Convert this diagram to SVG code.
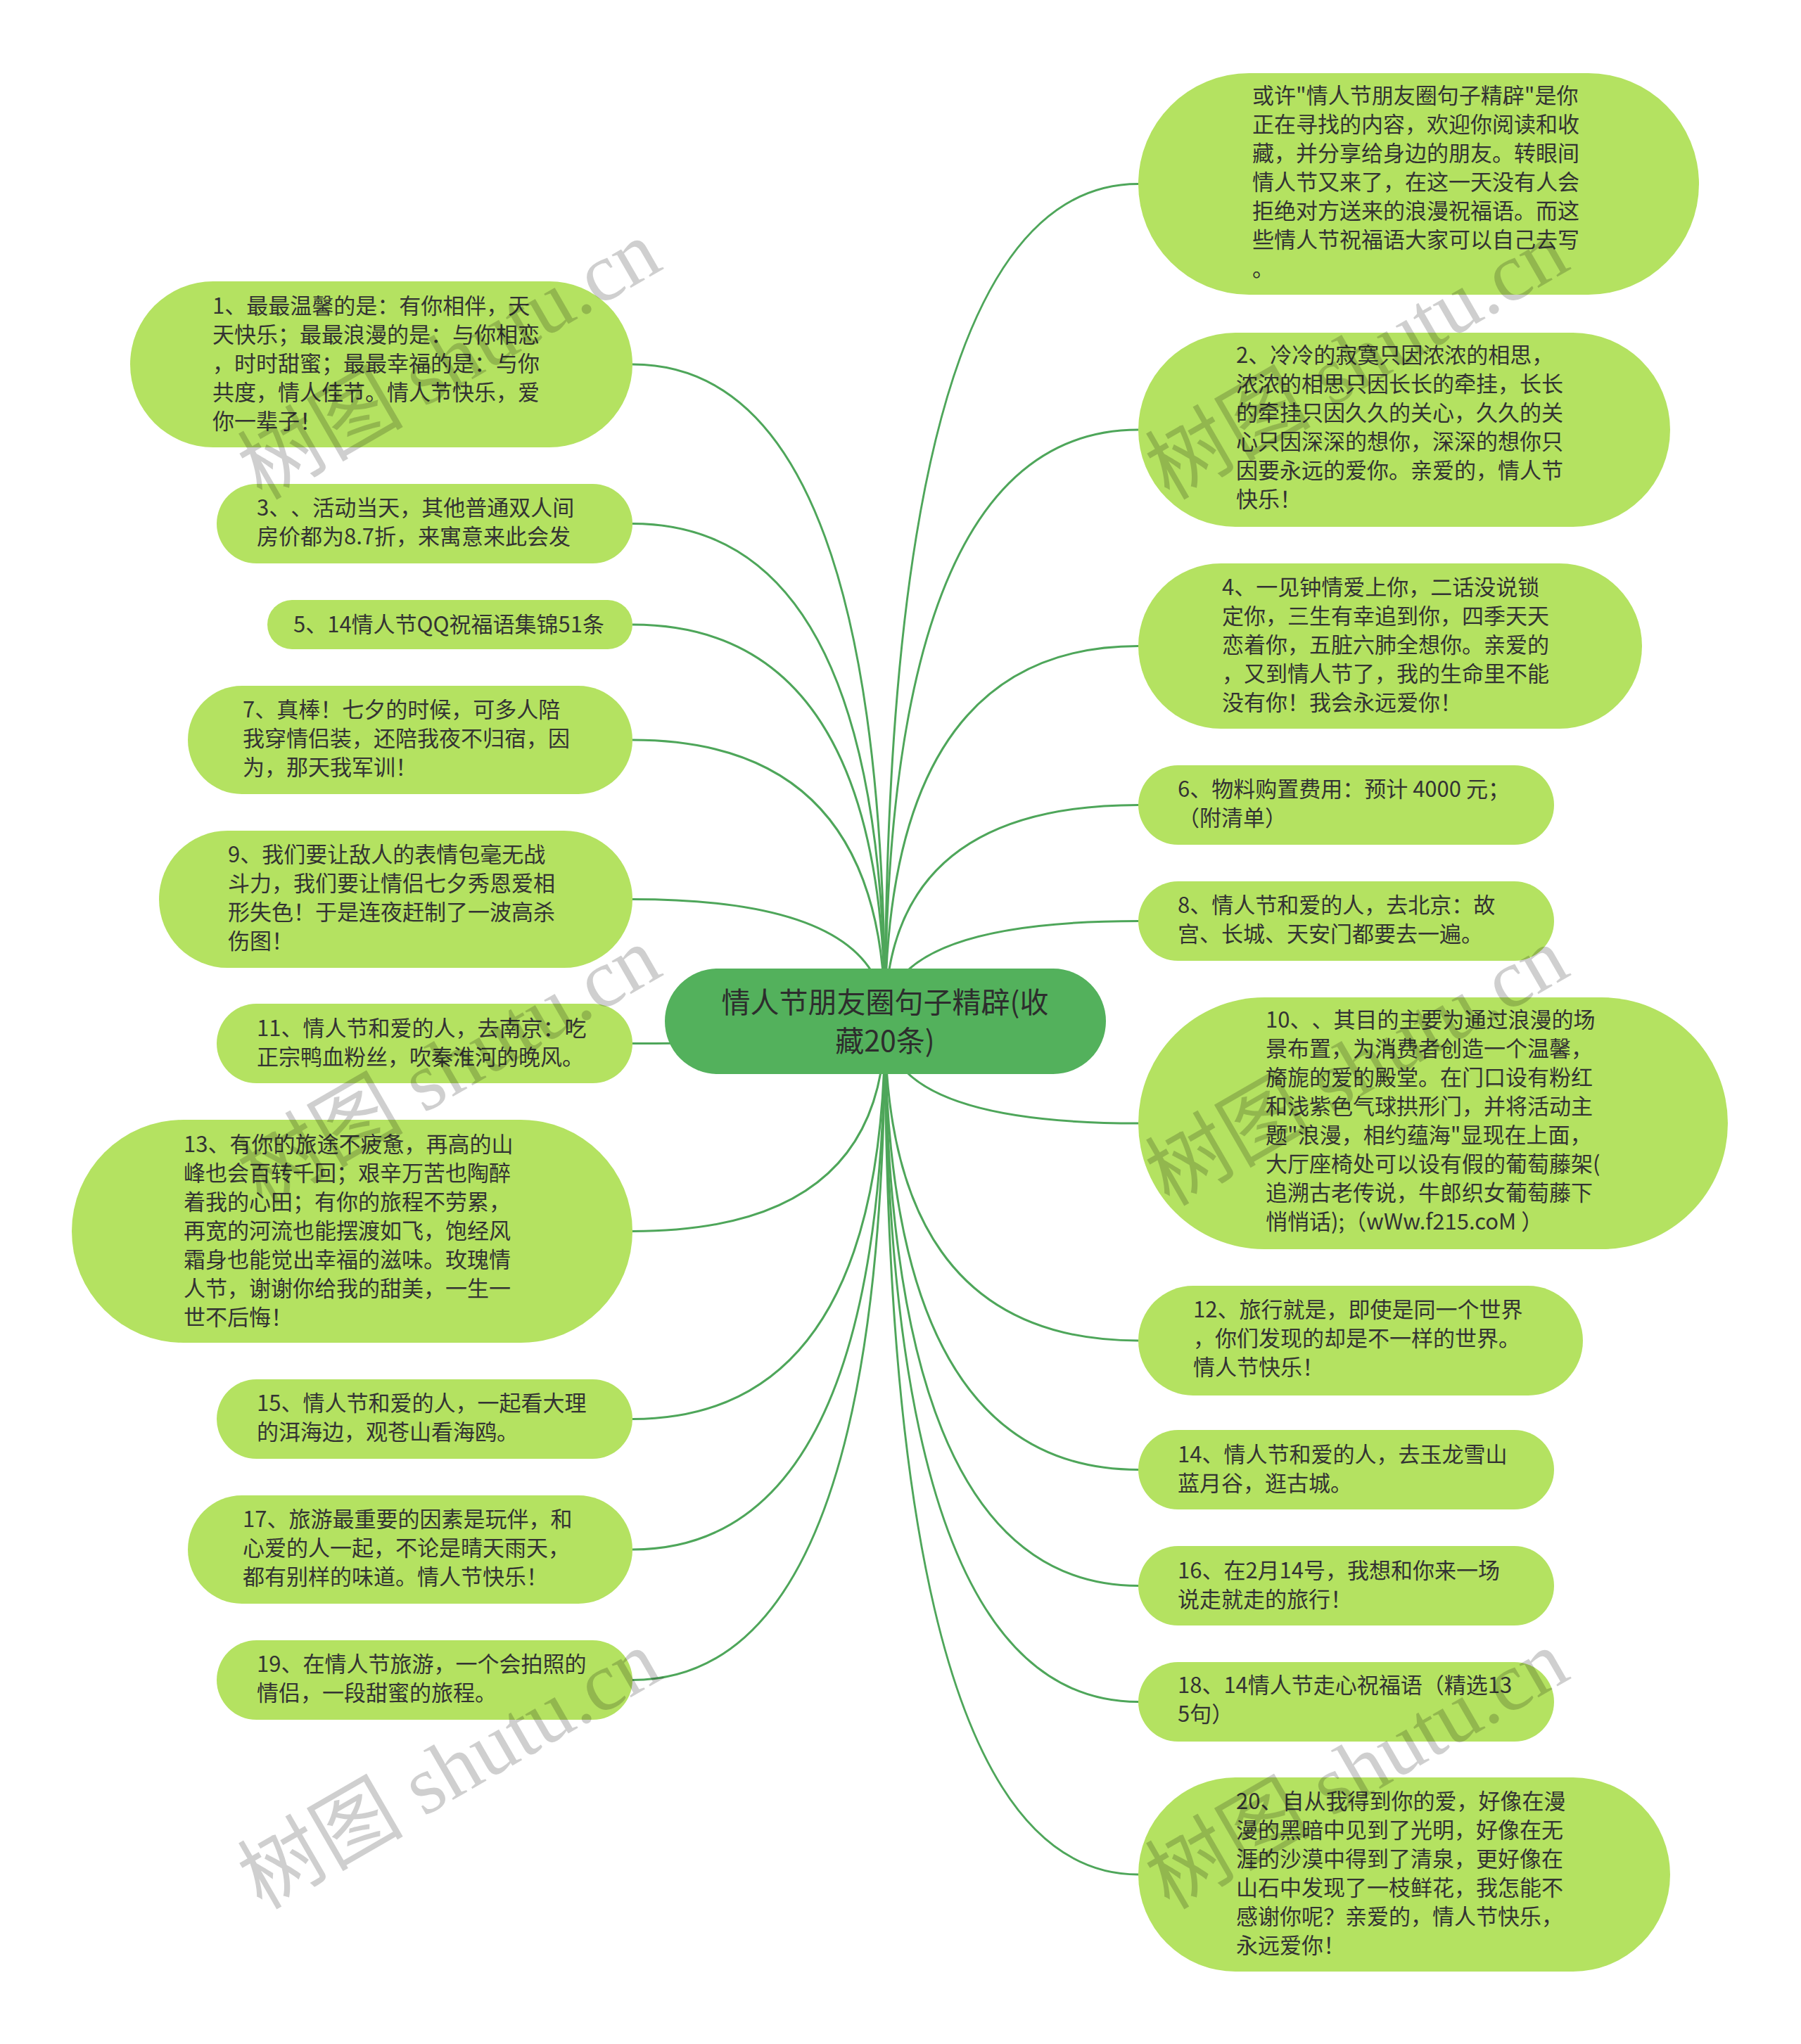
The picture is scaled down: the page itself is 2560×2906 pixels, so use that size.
<svg xmlns="http://www.w3.org/2000/svg" width="2560" height="2906" viewBox="0 0 2560 2906">
<style>
.bg{fill:#ffffff}
.node{fill:#b4e261}
.root{fill:#53b15c}
.t{font-family:"Noto Sans CJK SC","Noto Sans",sans-serif;font-size:31px;fill:#333333;text-spacing-trim:space-all}
.rt{font-family:"Noto Sans CJK SC","Noto Sans",sans-serif;font-size:41px;fill:#2d2d2d;text-anchor:middle;text-spacing-trim:space-all}
.edge{fill:none;stroke:#4ea65a;stroke-width:3}
.wm{font-family:"Liberation Serif","Noto Sans CJK SC",serif;font-size:118px;fill:#000000;fill-opacity:0.19}
</style>
<rect class="bg" x="0" y="0" width="2560" height="2906"/>
<g id="connectors">
<path class="edge" d="M1258 1452 Q1258 518 899 518"/>
<path class="edge" d="M1258 1452 Q1258 744.5 899 744.5"/>
<path class="edge" d="M1258 1452 Q1258 888 899 888"/>
<path class="edge" d="M1258 1452 Q1258 1052 899 1052"/>
<path class="edge" d="M1258 1452 Q1258 1278.5 899 1278.5"/>
<path class="edge" d="M1258 1452 Q1258 1483.5 899 1483.5"/>
<path class="edge" d="M1258 1452 Q1258 1750.5 899 1750.5"/>
<path class="edge" d="M1258 1452 Q1258 2017.5 899 2017.5"/>
<path class="edge" d="M1258 1452 Q1258 2203 899 2203"/>
<path class="edge" d="M1258 1452 Q1258 2388.5 899 2388.5"/>
<path class="edge" d="M1258 1452 Q1258 261.5 1618 261.5"/>
<path class="edge" d="M1258 1452 Q1258 611 1618 611"/>
<path class="edge" d="M1258 1452 Q1258 918.5 1618 918.5"/>
<path class="edge" d="M1258 1452 Q1258 1144.5 1618 1144.5"/>
<path class="edge" d="M1258 1452 Q1258 1309.5 1618 1309.5"/>
<path class="edge" d="M1258 1452 Q1258 1597 1618 1597"/>
<path class="edge" d="M1258 1452 Q1258 1906 1618 1906"/>
<path class="edge" d="M1258 1452 Q1258 2089.5 1618 2089.5"/>
<path class="edge" d="M1258 1452 Q1258 2254.5 1618 2254.5"/>
<path class="edge" d="M1258 1452 Q1258 2419.5 1618 2419.5"/>
<path class="edge" d="M1258 1452 Q1258 2665 1618 2665"/>
</g>
<g id="root">
<rect class="root" x="945" y="1377" width="627" height="150" rx="75"/>
<text class="rt" x="1258" y="1440">情人节朋友圈句子精辟(收</text>
<text class="rt" x="1258" y="1495">藏20条)</text>
</g>
<g id="n1">
<rect class="node" x="185" y="400" width="714" height="236" rx="118"/>
<text class="t" x="302" y="446"><tspan x="302">1、最最温馨的是：有你相伴，天</tspan><tspan x="302" dy="41">天快乐；最最浪漫的是：与你相恋</tspan><tspan x="302" dy="41">，时时甜蜜；最最幸福的是：与你</tspan><tspan x="302" dy="41">共度，情人佳节。情人节快乐，爱</tspan><tspan x="302" dy="41">你一辈子！</tspan></text>
</g>
<g id="n3">
<rect class="node" x="308" y="688" width="591" height="113" rx="56.5"/>
<text class="t" x="365" y="733"><tspan x="365">3、、活动当天，其他普通双人间</tspan><tspan x="365" dy="41">房价都为8.7折，来寓意来此会发</tspan></text>
</g>
<g id="n5">
<rect class="node" x="380" y="853" width="519" height="70" rx="35"/>
<text class="t" x="417" y="899">5、14情人节QQ祝福语集锦51条</text>
</g>
<g id="n7">
<rect class="node" x="267" y="975" width="632" height="154" rx="77"/>
<text class="t" x="345" y="1020"><tspan x="345">7、真棒！七夕的时候，可多人陪</tspan><tspan x="345" dy="41">我穿情侣装，还陪我夜不归宿，因</tspan><tspan x="345" dy="41">为，那天我军训！</tspan></text>
</g>
<g id="n9">
<rect class="node" x="226" y="1181" width="673" height="195" rx="97.5"/>
<text class="t" x="324" y="1226"><tspan x="324">9、我们要让敌人的表情包毫无战</tspan><tspan x="324" dy="41">斗力，我们要让情侣七夕秀恩爱相</tspan><tspan x="324" dy="41">形失色！于是连夜赶制了一波高杀</tspan><tspan x="324" dy="41">伤图！</tspan></text>
</g>
<g id="n11">
<rect class="node" x="308" y="1427" width="591" height="113" rx="56.5"/>
<text class="t" x="365" y="1473"><tspan x="365">11、情人节和爱的人，去南京：吃</tspan><tspan x="365" dy="41">正宗鸭血粉丝，吹秦淮河的晚风。</tspan></text>
</g>
<g id="n13">
<rect class="node" x="102" y="1592" width="797" height="317" rx="158.5"/>
<text class="t" x="261" y="1638"><tspan x="261">13、有你的旅途不疲惫，再高的山</tspan><tspan x="261" dy="41">峰也会百转千回；艰辛万苦也陶醉</tspan><tspan x="261" dy="41">着我的心田；有你的旅程不劳累，</tspan><tspan x="261" dy="41">再宽的河流也能摆渡如飞，饱经风</tspan><tspan x="261" dy="41">霜身也能觉出幸福的滋味。玫瑰情</tspan><tspan x="261" dy="41">人节，谢谢你给我的甜美，一生一</tspan><tspan x="261" dy="41">世不后悔！</tspan></text>
</g>
<g id="n15">
<rect class="node" x="308" y="1961" width="591" height="113" rx="56.5"/>
<text class="t" x="365" y="2006"><tspan x="365">15、情人节和爱的人，一起看大理</tspan><tspan x="365" dy="41">的洱海边，观苍山看海鸥。</tspan></text>
</g>
<g id="n17">
<rect class="node" x="267" y="2126" width="632" height="154" rx="77"/>
<text class="t" x="345" y="2171"><tspan x="345">17、旅游最重要的因素是玩伴，和</tspan><tspan x="345" dy="41">心爱的人一起，不论是晴天雨天，</tspan><tspan x="345" dy="41">都有别样的味道。情人节快乐！</tspan></text>
</g>
<g id="n19">
<rect class="node" x="308" y="2332" width="591" height="113" rx="56.5"/>
<text class="t" x="365" y="2377"><tspan x="365">19、在情人节旅游，一个会拍照的</tspan><tspan x="365" dy="41">情侣，一段甜蜜的旅程。</tspan></text>
</g>
<g id="n0">
<rect class="node" x="1618" y="104" width="797" height="315" rx="157.5"/>
<text class="t" x="1780" y="147"><tspan x="1780">或许"情人节朋友圈句子精辟"是你</tspan><tspan x="1780" dy="41">正在寻找的内容，欢迎你阅读和收</tspan><tspan x="1780" dy="41">藏，并分享给身边的朋友。转眼间</tspan><tspan x="1780" dy="41">情人节又来了，在这一天没有人会</tspan><tspan x="1780" dy="41">拒绝对方送来的浪漫祝福语。而这</tspan><tspan x="1780" dy="41">些情人节祝福语大家可以自己去写</tspan><tspan x="1780" dy="41">。</tspan></text>
</g>
<g id="n2">
<rect class="node" x="1618" y="473" width="756" height="276" rx="138"/>
<text class="t" x="1757" y="516"><tspan x="1757">2、冷冷的寂寞只因浓浓的相思，</tspan><tspan x="1757" dy="41">浓浓的相思只因长长的牵挂，长长</tspan><tspan x="1757" dy="41">的牵挂只因久久的关心，久久的关</tspan><tspan x="1757" dy="41">心只因深深的想你，深深的想你只</tspan><tspan x="1757" dy="41">因要永远的爱你。亲爱的，情人节</tspan><tspan x="1757" dy="41">快乐！</tspan></text>
</g>
<g id="n4">
<rect class="node" x="1618" y="801" width="716" height="235" rx="117.5"/>
<text class="t" x="1737" y="846"><tspan x="1737">4、一见钟情爱上你，二话没说锁</tspan><tspan x="1737" dy="41">定你，三生有幸追到你，四季天天</tspan><tspan x="1737" dy="41">恋着你，五脏六肺全想你。亲爱的</tspan><tspan x="1737" dy="41">，又到情人节了，我的生命里不能</tspan><tspan x="1737" dy="41">没有你！我会永远爱你！</tspan></text>
</g>
<g id="n6">
<rect class="node" x="1618" y="1088" width="591" height="113" rx="56.5"/>
<text class="t" x="1674" y="1133"><tspan x="1674">6、物料购置费用：预计 4000 元；</tspan><tspan x="1674" dy="41">（附清单）</tspan></text>
</g>
<g id="n8">
<rect class="node" x="1618" y="1253" width="591" height="113" rx="56.5"/>
<text class="t" x="1674" y="1298"><tspan x="1674">8、情人节和爱的人，去北京：故</tspan><tspan x="1674" dy="41">宫、长城、天安门都要去一遍。</tspan></text>
</g>
<g id="n10">
<rect class="node" x="1618" y="1418" width="838" height="358" rx="179"/>
<text class="t" x="1799" y="1461"><tspan x="1799">10、、其目的主要为通过浪漫的场</tspan><tspan x="1799" dy="41">景布置，为消费者创造一个温馨，</tspan><tspan x="1799" dy="41">旖旎的爱的殿堂。在门口设有粉红</tspan><tspan x="1799" dy="41">和浅紫色气球拱形门，并将活动主</tspan><tspan x="1799" dy="41">题"浪漫，相约蕴海"显现在上面，</tspan><tspan x="1799" dy="41">大厅座椅处可以设有假的葡萄藤架(</tspan><tspan x="1799" dy="41">追溯古老传说，牛郎织女葡萄藤下</tspan><tspan x="1799" dy="41">悄悄话);（wWw.f215.coM ）</tspan></text>
</g>
<g id="n12">
<rect class="node" x="1618" y="1828" width="632" height="156" rx="78"/>
<text class="t" x="1696" y="1873"><tspan x="1696">12、旅行就是，即使是同一个世界</tspan><tspan x="1696" dy="41">，你们发现的却是不一样的世界。</tspan><tspan x="1696" dy="41">情人节快乐！</tspan></text>
</g>
<g id="n14">
<rect class="node" x="1618" y="2033" width="591" height="113" rx="56.5"/>
<text class="t" x="1674" y="2079"><tspan x="1674">14、情人节和爱的人，去玉龙雪山</tspan><tspan x="1674" dy="41">蓝月谷，逛古城。</tspan></text>
</g>
<g id="n16">
<rect class="node" x="1618" y="2198" width="591" height="113" rx="56.5"/>
<text class="t" x="1674" y="2244"><tspan x="1674">16、在2月14号，我想和你来一场</tspan><tspan x="1674" dy="41">说走就走的旅行！</tspan></text>
</g>
<g id="n18">
<rect class="node" x="1618" y="2363" width="591" height="113" rx="56.5"/>
<text class="t" x="1674" y="2407"><tspan x="1674">18、14情人节走心祝福语（精选13</tspan><tspan x="1674" dy="41">5句）</tspan></text>
</g>
<g id="n20">
<rect class="node" x="1618" y="2527" width="756" height="276" rx="138"/>
<text class="t" x="1757" y="2572"><tspan x="1757">20、自从我得到你的爱，好像在漫</tspan><tspan x="1757" dy="41">漫的黑暗中见到了光明，好像在无</tspan><tspan x="1757" dy="41">涯的沙漠中得到了清泉，更好像在</tspan><tspan x="1757" dy="41">山石中发现了一枝鲜花，我怎能不</tspan><tspan x="1757" dy="41">感谢你呢？亲爱的，情人节快乐，</tspan><tspan x="1757" dy="41">永远爱你！</tspan></text>
</g>
<g id="watermarks">
<text class="wm" x="372" y="712" transform="rotate(-30 372 712)">树图 shutu.cn</text>
<text class="wm" x="1662" y="712" transform="rotate(-30 1662 712)">树图 shutu.cn</text>
<text class="wm" x="372" y="1716" transform="rotate(-30 372 1716)">树图 shutu.cn</text>
<text class="wm" x="1662" y="1716" transform="rotate(-30 1662 1716)">树图 shutu.cn</text>
<text class="wm" x="372" y="2716" transform="rotate(-30 372 2716)">树图 shutu.cn</text>
<text class="wm" x="1662" y="2716" transform="rotate(-30 1662 2716)">树图 shutu.cn</text>
</g>
</svg>
